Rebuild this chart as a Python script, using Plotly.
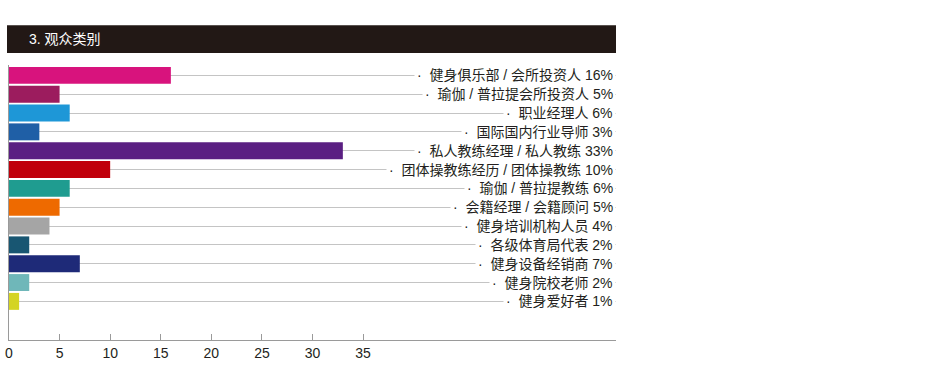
import plotly.graph_objects as go

categories = ["健身俱乐部 / 会所投资人", "瑜伽 / 普拉提会所投资人", "职业经理人", "国际国内行业导师",
              "私人教练经理 / 私人教练", "团体操教练经历 / 团体操教练", "瑜伽 / 普拉提教练",
              "会籍经理 / 会籍顾问", "健身培训机构人员", "各级体育局代表", "健身设备经销商",
              "健身院校老师", "健身爱好者"]
values = [16, 5, 6, 3, 33, 10, 6, 5, 4, 2, 7, 2, 1]
colors = ["#d8137d", "#9c1c5e", "#1e97d7", "#1f5fa6", "#5a1f82", "#c0000b", "#1f9c90",
          "#ee6a00", "#a5a5a5", "#185672", "#1e2a78", "#6fb7b9", "#d4d423"]
tick_vals = [0, 5, 10, 15, 20, 25, 30, 35]
title_text = "3. 观众类别"

FONT = "Liberation Sans, Arial, Noto Sans CJK SC, sans-serif"
TXT = "#231f20"

fig = go.Figure()
fig.add_trace(go.Bar(
    x=values, y=categories, orientation="h",
    marker=dict(color=colors, line=dict(width=0)),
    hoverinfo="x+y",
))

annotations = []
for c, v in zip(categories, values):
    annotations.append(dict(
        x=1, xref="paper", y=c, yref="y", xanchor="right", yanchor="middle",
        text="·\u00a0\u00a0" + c + " " + f"{v}%",
        showarrow=False, bgcolor="white", borderpad=2,
        font=dict(family=FONT, size=14, color=TXT),
    ))

annotations.append(dict(
    x=0.0297, xref="paper", y=1.0945, yref="paper", xanchor="left", yanchor="middle",
    text=title_text, showarrow=False,
    font=dict(family=FONT, size=14, color="white"),
))

fig.update_layout(
    width=951, height=384,
    margin=dict(l=9, r=335, t=65, b=44, autoexpand=False),
    paper_bgcolor="white", plot_bgcolor="white",
    showlegend=False, bargap=0.1,
    font=dict(family=FONT, size=13, color=TXT),
    annotations=annotations,
    shapes=[dict(type="rect", xref="paper", yref="paper",
                 x0=-2/607, x1=1, y0=1.0436, y1=1.145,
                 fillcolor="#221815", line=dict(width=0), layer="above")],
    xaxis=dict(range=[0, 60], tickvals=tick_vals, ticks="inside", ticklen=6,
               tickcolor="#9a9a9a", showgrid=False, zeroline=False,
               showline=True, linecolor="#9a9a9a", linewidth=1,
               ticklabeloverflow="allow", automargin=False,
               tickfont=dict(family=FONT, size=14, color=TXT), fixedrange=True),
    yaxis=dict(categoryorder="array", categoryarray=categories,
               range=[14.05, -0.55], autorange=False,
               showticklabels=False, ticks="", automargin=False,
               showgrid=True, gridcolor="#c4c4c4", gridwidth=1,
               zeroline=False, showline=True, linecolor="#9a9a9a", linewidth=1,
               fixedrange=True),
)

fig.write_html("out.html", config={"displayModeBar": False},
               post_script="document.body.style.margin='0';document.body.style.overflow='hidden';")
